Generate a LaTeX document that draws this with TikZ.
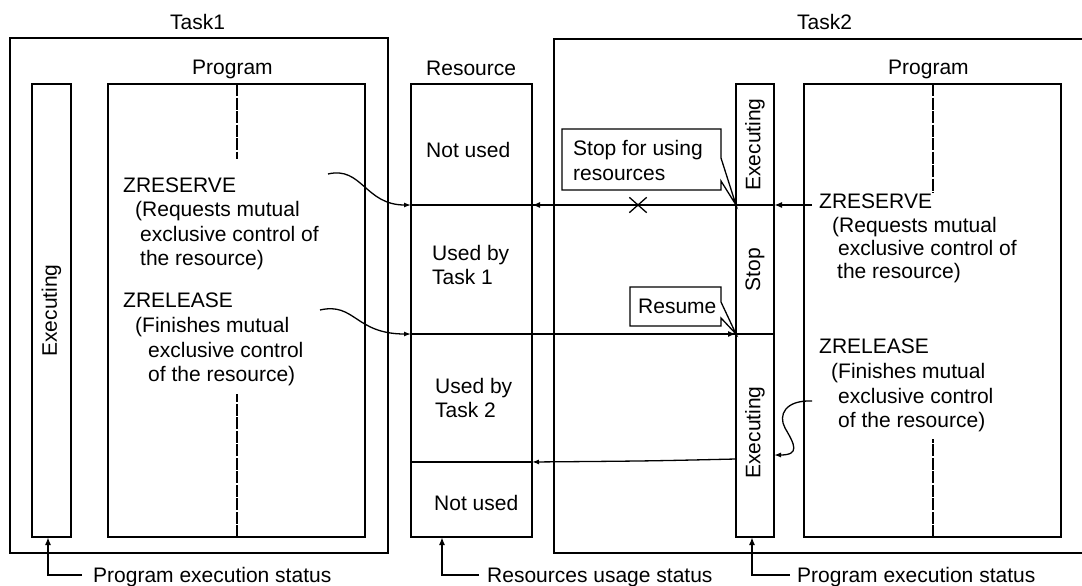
\documentclass[tikz,border=0pt]{standalone}
\usepackage{fontspec}
\setmainfont{Liberation Sans}
\usetikzlibrary{arrows.meta,calc,shapes.misc}
\begin{document}
\begin{tikzpicture}[x=1pt,y=-1pt,
  box/.style={draw,line width=1.3pt,inner sep=0pt,outer sep=0pt,anchor=north west},
  zone/.style={inner sep=0pt,outer sep=0pt,anchor=north west},
  txt/.style={font=\fontsize{21}{24}\selectfont,inner sep=0pt,anchor=base west},
  vtxt/.style={font=\fontsize{21}{24}\selectfont,inner sep=0pt,rotate=90},
  heavy/.style={line width=2.4pt},
  thinline/.style={line width=1.3pt},
  arr/.style={line width=1.3pt,-{Latex[length=7pt,width=5pt]}},
  harr/.style={line width=2.4pt,-{Latex[length=8pt,width=6pt]}},
  sarr/.style={line width=2.2pt,-{Latex[length=8pt,width=6pt]}},
  prog/.style={line width=2pt,dash pattern=on 12pt off 1.5pt}]
\useasboundingbox (0,0) rectangle (1082,586);

% ---------- Task1 ----------
\node[txt] (lt1) at (170,29.5) {Task1};
\node[box,minimum width=378pt,minimum height=515pt] (t1) at (10,38) {};
\node[box,minimum width=39pt,minimum height=453pt] (b1) at (32,84) {};
\node[vtxt] (e1) at (b1.center) {Executing};
\node[txt] (lp1) at (192,74.5) {Program};
\node[box,minimum width=257pt,minimum height=453pt] (p1) at (108,84) {};
\draw[prog] (p1.north) -- ++(0,75);
\draw[prog] (p1.south) -- ++(0,-143);

\node[txt] (a1) at (123,192) {ZRESERVE};
\node[txt] (a2) at (135,216.5) {(Requests mutual};
\node[txt] (a3) at (140,241) {exclusive control of};
\node[txt] (a4) at (140,265) {the resource)};
\node[txt] (b1t) at (123,307) {ZRELEASE};
\node[txt] (b2t) at (135,332) {(Finishes mutual};
\node[txt] (b3t) at (148,357) {exclusive control};
\node[txt] (b4t) at (148,381) {of the resource)};

% ---------- Resource ----------
\node[txt] (lr) at (426,75) {Resource};
\node[box,minimum width=121pt,minimum height=121pt] (r1) at (411,84) {};
\node[box,minimum width=121pt,minimum height=129pt] (r2) at (411,205) {};
\node[box,minimum width=121pt,minimum height=128pt] (r3) at (411,334) {};
\node[box,minimum width=121pt,minimum height=75pt] (r4) at (411,462) {};
\node[txt] (n1) at (426,157) {Not used};
\node[txt] (u1) at (432,260) {Used by};
\node[txt] (u2) at (432,284) {Task 1};
\node[txt] (w1) at (435,393) {Used by};
\node[txt] (w2) at (435,417) {Task 2};
\node[txt] (n2) at (434,510) {Not used};

% ---------- Task2 ----------
\node[txt] (lt2) at (797,29.5) {Task2};
\node[zone,minimum width=528pt,minimum height=514pt] (t2) at (554,39) {};
\draw[thinline] (t2.north east) -- (t2.north west) -- (t2.south west) -- (t2.south east);
\node[box,minimum width=38pt,minimum height=121pt] (s1) at (736,84) {};
\node[box,minimum width=38pt,minimum height=129pt] (s2) at (736,205) {};
\node[box,minimum width=38pt,minimum height=203pt] (s3) at (736,334) {};
\node[vtxt] (e2) at (s1.center) {Executing};
\node[vtxt] (st) at (s2.center) {Stop};
\node[vtxt] (e3) at ($(s3.center)+(0,-3)$) {Executing};
\node[txt] (lp2) at (888,74.5) {Program};
\node[box,minimum width=257pt,minimum height=453pt] (p2) at (804,84) {};
\draw[prog] (p2.north) -- ++(0,109);
\draw[prog] (p2.south) -- ++(0,-98);

\node[txt] (c1t) at (819,208) {ZRESERVE};
\node[txt] (c2t) at (832,232) {(Requests mutual};
\node[txt] (c3t) at (838,255) {exclusive control of};
\node[txt] (c4t) at (837,278.5) {the resource)};
\node[txt] (d1t) at (819,353) {ZRELEASE};
\node[txt] (d2t) at (831,378) {(Finishes mutual};
\node[txt] (d3t) at (838,403) {exclusive control};
\node[txt] (d4t) at (838,427) {of the resource)};

% ---------- callouts ----------
\node[zone,minimum width=159pt,minimum height=61pt] (cb1) at (562,129) {};
\draw[thinline] (cb1.north west) -- (cb1.north east) -- ($(cb1.north east)+(0,29)$)
  -- (s1.south west) -- ($(cb1.south east)+(0,-9)$) -- (cb1.south east) -- (cb1.south west) -- cycle;
\node[txt] (so1) at (573,155) {Stop for using};
\node[txt] (so2) at (573,180) {resources};

\node[zone,minimum width=91pt,minimum height=39pt] (cb2) at (630,287) {};
\draw[thinline] (cb2.north west) -- (cb2.north east) -- ($(cb2.north east)+(0,15)$)
  -- (s2.south west) -- ($(cb2.south east)+(0,-8)$) -- (cb2.south east) -- (cb2.south west) -- cycle;
\node[txt] (rsm) at (638,313) {Resume};

% ---------- connectors ----------
\coordinate (k1) at (328,174);
\coordinate (k2) at (320,310);
\coordinate (k3) at (812,401);
\coordinate (k4) at (774,455);
\coordinate (q1) at (812,205);

\draw[heavy] (r1.south west) -- (s1.south east);
\draw[harr] (s1.south west) -- (r1.south east);
\draw[harr] (q1) -- (s1.south east);
\draw[arr] (k1) .. controls (362,166) and (365,205) .. (r1.south west);
\node[draw,cross out,line width=1.3pt,minimum width=16pt,minimum height=14pt,inner sep=0pt] (xx) at (638,205) {};

\draw[heavy] (r2.south west) -- (s2.south east);
\draw[harr] (r2.south east) -- (s2.south west);
\draw[arr] (k2) .. controls (355,302) and (355,334) .. (r2.south west);

\draw[heavy] (r3.south west) -- (r3.south east);
\draw[arr] ($(s3.north west)+(0,125)$) .. controls (650,461) .. (r3.south east);
\draw[arr] (k3) .. controls (785,400) and (778,415) .. (785,428) .. controls (795,445) and (800,455) .. (k4);

% ---------- status labels ----------
\node[txt] (ps1) at (93,582) {Program execution status};
\draw[sarr] ($(ps1.base west)+(-11,-7)$) -| ($(b1.south west)+(16,0)$);
\node[txt] (rs) at (487,582) {Resources usage status};
\draw[sarr] ($(rs.base west)+(-8,-7)$) -| ($(r4.south west)+(31,0)$);
\node[txt] (ps2) at (797,582) {Program execution status};
\draw[sarr] ($(ps2.base west)+(-7,-7)$) -| ($(s3.south west)+(16,0)$);
\end{tikzpicture}
\end{document}
